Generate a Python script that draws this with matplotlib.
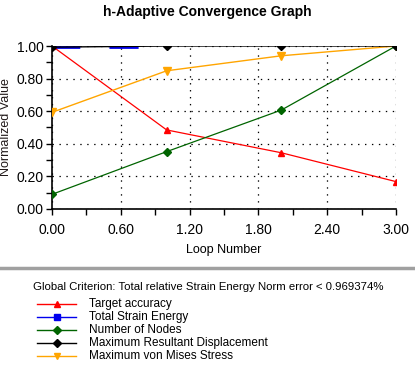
import matplotlib
matplotlib.use('Agg')
import matplotlib.pyplot as plt
from matplotlib.lines import Line2D
from matplotlib.ticker import MultipleLocator, FormatStrFormatter

plt.rcParams['font.family'] = ['Liberation Sans', 'DejaVu Sans']
plt.rcParams['lines.scale_dashes'] = False

loops = [0, 1, 2, 3]
target_accuracy = [1.0, 0.485, 0.345, 0.168]
strain_energy = [0.995, 0.995, 0.995, 0.995]
num_nodes = [0.09, 0.352, 0.607, 1.0]
max_displacement = [0.993, 1.0, 1.0, 1.0]
max_von_mises = [0.593, 0.848, 0.94, 1.0]

series_names = ['Target accuracy', 'Total Strain Energy', 'Number of Nodes',
                'Maximum Resultant Displacement', 'Maximum von Mises Stress']
criterion = 'Global Criterion: Total relative Strain Energy Norm error < 0.969374%'

fig = plt.figure(figsize=(4.15, 3.67), dpi=100)
ax = fig.add_axes([52/415, 1 - 209/367, 344/415, 163/367])

# blue line mostly hidden under the black one, only two short pieces show
blue, = ax.plot(loops, strain_energy, color='#0000ee', lw=2.0, zorder=2)
blue.set_dashes([20, 21, 21, 1000])
ax.plot(loops, target_accuracy, color='#ff0000', lw=0.9, marker='^', ms=4.5, zorder=3)
ax.plot(loops, num_nodes, color='#006400', lw=0.9, marker='D', ms=4.5, zorder=3)
ax.plot(loops, max_von_mises, color='#ffa500', lw=1.0, marker='v', ms=5.5, zorder=3)
ax.plot(loops, max_displacement, color='black', lw=1.0, marker='D', ms=4.5, zorder=4)

ax.set_xlim(0, 3)
ax.set_ylim(0, 1)
ax.xaxis.set_major_locator(MultipleLocator(0.6))
ax.xaxis.set_minor_locator(MultipleLocator(0.3))
ax.yaxis.set_major_locator(MultipleLocator(0.2))
ax.yaxis.set_minor_locator(MultipleLocator(0.1))
ax.xaxis.set_major_formatter(FormatStrFormatter('%.2f'))
ax.yaxis.set_major_formatter(FormatStrFormatter('%.2f'))
ax.grid(True, which='major', color='black', linestyle=(0, (1, 4)), lw=0.9)
ax.set_axisbelow(True)
for s in ['top', 'right']:
    ax.spines[s].set_visible(False)
ax.spines['left'].set_linewidth(1.2)
ax.spines['bottom'].set_linewidth(1.2)
ax.tick_params(which='major', length=4, width=1, labelsize=10, pad=2, colors='black')
ax.tick_params(which='minor', length=4, width=1)
ax.tick_params(axis='x', pad=6)
ax.set_xlabel('Loop Number', fontsize=9, labelpad=5)
ax.set_ylabel('Normalized Value', fontsize=9, labelpad=3, color='#201818')

fig.text(0.5, 1 - 12/367, 'h-Adaptive Convergence Graph', ha='center', va='center',
         fontsize=10, fontweight='bold')

# separator and legend block
fig.add_artist(Line2D([0, 1], [1 - 268/367] * 2, color='#a0a0a0', lw=2.5))
fig.text(33/415, 1 - 287/367, criterion, va='center', fontsize=8.2)

colors = ['#ff0000', '#0000ee', '#006400', 'black', '#ffa500']
markers = ['^', 's', 'D', 'D', 'v']
for i, (name, c, m) in enumerate(zip(series_names, colors, markers)):
    yy = 1 - (304 + 13 * i) / 367
    fig.add_artist(Line2D([37/415, 76/415], [yy, yy], color=c, lw=1.0))
    fig.add_artist(Line2D([56.5/415], [yy], color=c, marker=m, ms=4, lw=0))
    fig.text(89/415, yy, name, va='center', fontsize=8.5)

fig.savefig('out.png', dpi=100, facecolor='white')
